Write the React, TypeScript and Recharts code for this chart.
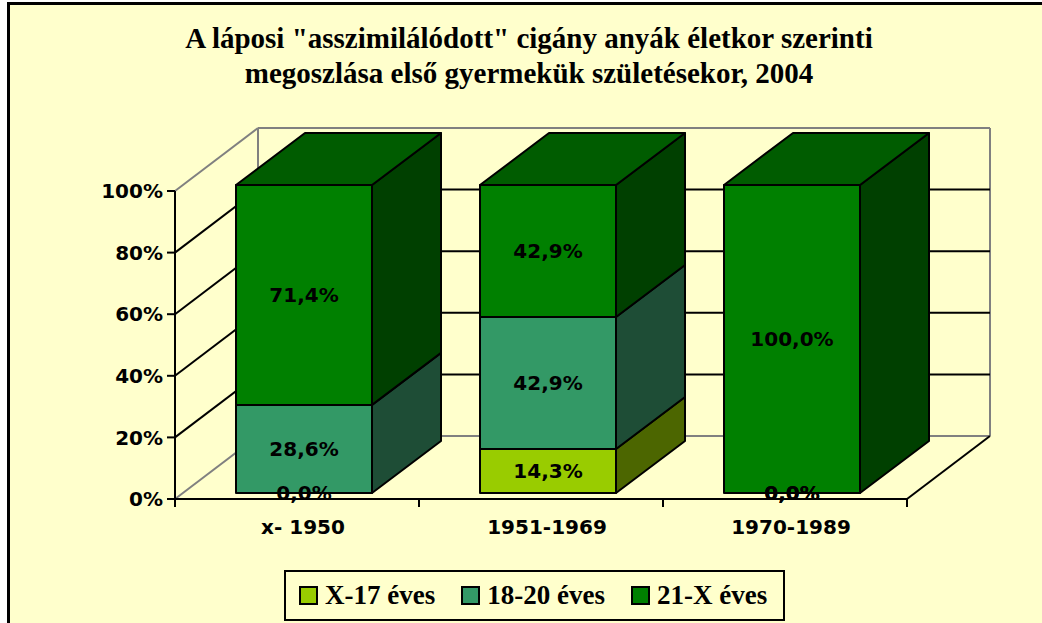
import { BarChart, Bar, XAxis, YAxis, CartesianGrid, LabelList } from 'recharts'

const categories = ['x- 1950', '1951-1969', '1970-1989']
const x17 = [0, 14.3, 0]
const y1820 = [28.6, 42.9, 0]
const y21x = [71.4, 42.9, 100]
const yTicks = [0, 0.2, 0.4, 0.6, 0.8, 1]

const series = [
  { key: 'x17', name: 'X-17 éves', front: '#99CC00', side: '#4C6600', top: '#6E9200' },
  { key: 'y1820', name: '18-20 éves', front: '#339966', side: '#1E4D36', top: '#26734D' },
  { key: 'y21x', name: '21-X éves', front: '#008000', side: '#004000', top: '#005C00' }
]

const data = categories.map((cat, i) => ({ cat, x17: x17[i], y1820: y1820[i], y21x: y21x[i] }))

// layout of the fake 3D box (front plane = recharts plot area)
const PLOT_LEFT = 175
const PLOT_TOP = 191
const PLOT_BOTTOM = 499
const PLOT_H = PLOT_BOTTOM - PLOT_TOP
const BAND = 244
const WALL_DX = 83
const WALL_DY = -63
const BAR_FX = 7
const BAR_FY = -6
const BAR_DX = 69
const BAR_DY = -52

const SANS = '"DejaVu Sans", sans-serif'
const SERIF = '"Liberation Serif", "Times New Roman", serif'
const GRAY = '#808080'
const LABEL_SIZE = 20

const fmt = (v: number) => v.toFixed(1).replace('.', ',') + '%'

function Box3D(props: any) {
  const { x, y, width, height, front, side, top, showTop } = props
  if (!height || height <= 0) return null
  const fx = x + BAR_FX
  const fy = y + BAR_FY
  const w = width
  const h = height
  return (
    <g stroke="#000" strokeWidth={2} strokeLinejoin="round">
      <polygon
        points={`${fx + w},${fy} ${fx + w + BAR_DX},${fy + BAR_DY} ${fx + w + BAR_DX},${fy + h + BAR_DY} ${fx + w},${fy + h}`}
        fill={side}
      />
      {showTop && (
        <polygon
          points={`${fx},${fy} ${fx + BAR_DX},${fy + BAR_DY} ${fx + w + BAR_DX},${fy + BAR_DY} ${fx + w},${fy}`}
          fill={top}
        />
      )}
      <rect x={fx} y={fy} width={w} height={h} fill={front} />
    </g>
  )
}

function GridLine(props: any) {
  const { x1, y1, x2 } = props
  const isTop = Math.abs(y1 - PLOT_TOP) < 1
  const isBottom = Math.abs(y1 - PLOT_BOTTOM) < 1
  const color = isTop || isBottom ? GRAY : '#000'
  const bx = x1 + WALL_DX
  const by = y1 + WALL_DY
  return (
    <g key={props.key} fill="none" strokeWidth={2}>
      <line x1={x1} y1={y1} x2={bx} y2={by} stroke={color} />
      <line x1={bx} y1={by} x2={x2 + WALL_DX} y2={by} stroke={color} />
      {isBottom && (
        <>
          <line x1={bx} y1={by} x2={bx} y2={by - PLOT_H} stroke={GRAY} />
          <line x1={x2 + WALL_DX} y1={by} x2={x2 + WALL_DX} y2={by - PLOT_H} stroke={GRAY} />
          <line x1={x2} y1={y1} x2={x2 + WALL_DX} y2={by} stroke="#000" />
        </>
      )}
    </g>
  )
}

function CatTick(props: any) {
  const { x, payload, index } = props
  const last = index === categories.length - 1
  return (
    <g>
      <line x1={x - BAND / 2} y1={PLOT_BOTTOM} x2={x - BAND / 2} y2={PLOT_BOTTOM + 8} stroke="#000" strokeWidth={2} />
      {last && (
        <line x1={x + BAND / 2} y1={PLOT_BOTTOM} x2={x + BAND / 2} y2={PLOT_BOTTOM + 8} stroke="#000" strokeWidth={2} />
      )}
      <text
        x={x + 6}
        y={PLOT_BOTTOM + 35}
        textAnchor="middle"
        fontFamily={SANS}
        fontWeight="bold"
        fontSize={LABEL_SIZE}
        fill="#000"
      >
        {payload.value}
      </text>
    </g>
  )
}

function SegLabel(props: any) {
  const vb = props.viewBox || {}
  const x = props.x ?? vb.x
  const y = props.y ?? vb.y
  const width = props.width ?? vb.width
  const height = props.height ?? vb.height
  const value = props.value
  if (value === null || value === undefined) return null
  return (
    <text
      x={x + BAR_FX + width / 2}
      y={y + BAR_FY + height / 2 + 7}
      textAnchor="middle"
      fontFamily={SANS}
      fontWeight="bold"
      fontSize={LABEL_SIZE}
      fill="#000"
    >
      {fmt(Number(value))}
    </text>
  )
}

export default function App() {
  return (
    <div style={{ position: 'absolute', left: 0, top: 0, width: 1042, height: 623, background: '#fff', overflow: 'hidden' }}>
      <div
        style={{
          position: 'absolute',
          left: 7,
          top: 2,
          width: 1040,
          height: 625,
          borderLeft: '3px solid #000',
          borderTop: '3px solid #000',
          background: '#FFFFCC'
        }}
      />
      <div
        style={{
          position: 'absolute',
          left: 0,
          top: 21,
          width: 1058,
          textAlign: 'center',
          fontFamily: SERIF,
          fontWeight: 'bold',
          fontSize: 29,
          lineHeight: '35px',
          color: '#000',
          whiteSpace: 'nowrap'
        }}
      >
        A láposi "asszimilálódott" cigány anyák életkor szerinti
        <br />
        megoszlása első gyermekük születésekor, 2004
      </div>
      <div style={{ position: 'absolute', left: 0, top: 0 }}>
        <BarChart
          width={1042}
          height={623}
          data={data}
          stackOffset="expand"
          barSize={136}
          margin={{ top: PLOT_TOP, right: 1042 - 907, bottom: 623 - PLOT_BOTTOM - 30, left: PLOT_LEFT - 60 }}
        >
          <CartesianGrid vertical={false} horizontal={(p: any) => <GridLine {...p} />} />
          <XAxis
            dataKey="cat"
            height={30}
            tickLine={false}
            axisLine={{ stroke: '#000', strokeWidth: 2 }}
            tick={(p: any) => <CatTick {...p} />}
            interval={0}
          />
          <YAxis
            width={60}
            domain={[0, 1]}
            ticks={yTicks}
            tickFormatter={(v: number) => `${Math.round(v * 100)}%`}
            axisLine={{ stroke: '#000', strokeWidth: 2 }}
            tickLine={{ stroke: '#000', strokeWidth: 2 }}
            tickSize={8}
            tickMargin={4}
            tick={{ fill: '#000', fontFamily: SANS, fontWeight: 'bold', fontSize: LABEL_SIZE }}
            interval={0}
          />
          {series.map((s, i) => (
            <Bar
              key={s.key}
              dataKey={s.key}
              name={s.name}
              stackId="a"
              fill={s.front}
              isAnimationActive={false}
              shape={(p: any) => (
                <Box3D {...p} front={s.front} side={s.side} top={s.top} showTop={i === series.length - 1} />
              )}
            >
              <LabelList dataKey={s.key} content={(p: any) => <SegLabel {...p} />} />
            </Bar>
          ))}
        </BarChart>
      </div>
      <div
        style={{
          position: 'absolute',
          left: 284,
          top: 570,
          width: 501,
          height: 51,
          boxSizing: 'border-box',
          border: '2px solid #000',
          display: 'flex',
          alignItems: 'center',
          paddingLeft: 13,
          fontFamily: SERIF,
          fontWeight: 'bold',
          fontSize: 27,
          color: '#000',
          whiteSpace: 'nowrap'
        }}
      >
        {series.map((s) => (
          <div key={s.key} style={{ display: 'flex', alignItems: 'center', marginRight: 26, flexShrink: 0 }}>
            <span
              style={{
                display: 'inline-block',
                width: 15,
                height: 15,
                border: '2px solid #000',
                background: s.front,
                marginRight: 7
              }}
            />
            <span>{s.name}</span>
          </div>
        ))}
      </div>
    </div>
  )
}
